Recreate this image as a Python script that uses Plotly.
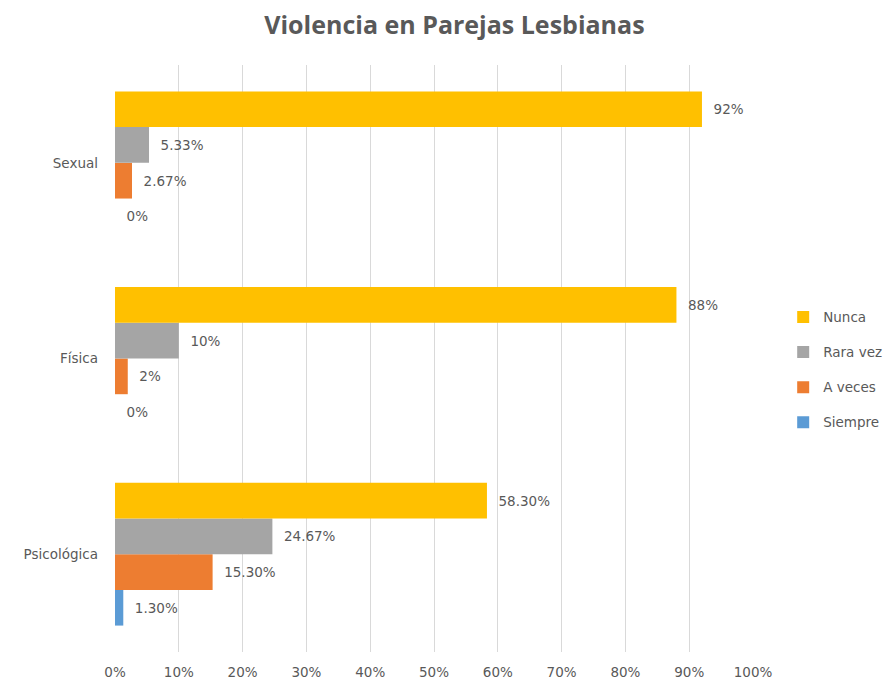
import plotly.graph_objects as go

categories = ["Psicológica", "Física", "Sexual"]
series_names = ["Siempre", "A veces", "Rara vez", "Nunca"]
siempre = [1.30, 0, 0]
a_veces = [15.30, 2, 2.67]
rara_vez = [24.67, 10, 5.33]
nunca = [58.30, 88, 92]
siempre_lbl = ["1.30%", "0%", "0%"]
a_veces_lbl = ["15.30%", "2%", "2.67%"]
rara_vez_lbl = ["24.67%", "10%", "5.33%"]
nunca_lbl = ["58.30%", "88%", "92%"]
x_ticks = [0, 10, 20, 30, 40, 50, 60, 70, 80, 90, 100]

colors = {"Siempre": "#5B9BD5", "A veces": "#ED7D31", "Rara vez": "#A5A5A5", "Nunca": "#FFC000"}
values = {"Siempre": siempre, "A veces": a_veces, "Rara vez": rara_vez, "Nunca": nunca}
labels = {"Siempre": siempre_lbl, "A veces": a_veces_lbl, "Rara vez": rara_vez_lbl, "Nunca": nunca_lbl}
legend_rank = {"Nunca": 1, "Rara vez": 2, "A veces": 3, "Siempre": 4}

FONT = "DejaVu Sans, sans-serif"
fig = go.Figure()
for name in series_names:
    fig.add_trace(go.Bar(
        y=categories, x=values[name], name=name, orientation="h",
        legendgroup=name, legendrank=legend_rank[name],
        marker=dict(color=colors[name], line=dict(width=0)),
        text=labels[name], texttemplate="\u00a0\u00a0%{text}",
        textposition="outside", cliponaxis=False,
        textfont=dict(size=13.5, color="#595959", family=FONT),
    ))

fig.update_layout(
    width=891, height=681,
    barmode="group", bargap=0.27, bargroupgap=0,
    paper_bgcolor="white", plot_bgcolor="white",
    margin=dict(l=115, r=138, t=65, b=29, autoexpand=False),
    title=dict(text="<b>Violencia en Parejas Lesbianas</b>", x=0.51, xanchor="center",
               y=0.963, yanchor="middle",
               font=dict(size=25, color="#595959", family="Open Sans, sans-serif")),
    font=dict(family=FONT, color="#595959", size=13.5),
    legend=dict(traceorder="grouped", xref="container", yref="container",
                x=0.879, xanchor="left", y=0.457, yanchor="middle",
                font=dict(size=13.5, color="#595959", family=FONT), itemwidth=30,
                tracegroupgap=14.5),
    uniformtext=dict(mode=False),
)
fig.update_xaxes(range=[0, 100], tickvals=x_ticks, ticktext=[f"{v}%" for v in x_ticks],
                 showgrid=True, gridcolor="#D9D9D9", gridwidth=1, zeroline=False,
                 showline=False, ticks="", automargin=False, ticklabelstandoff=10,
                 tickfont=dict(size=13.5, color="#595959"))
fig.update_yaxes(categoryorder="array", categoryarray=categories, showgrid=False,
                 showline=False, ticks="", ticklabelstandoff=16, automargin=False,
                 tickfont=dict(size=13.5, color="#595959"))

fig.write_html("out.html", config={"displayModeBar": False},
               post_script="document.body.style.margin='0px';document.body.style.overflow='hidden';")
